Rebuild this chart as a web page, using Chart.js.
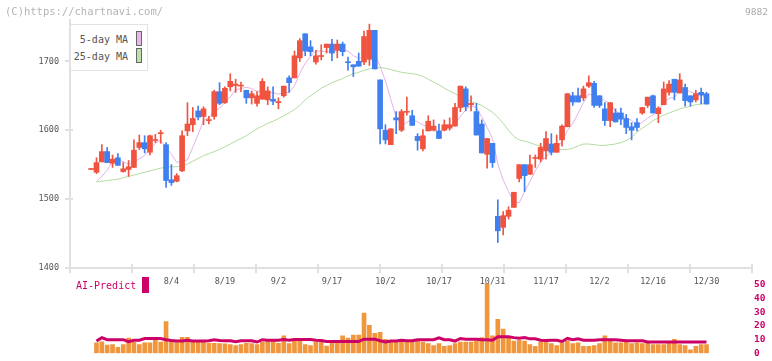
<!DOCTYPE html>
<html>
<head>
<meta charset="utf-8">
<script src="https://cdn.jsdelivr.net/npm/chart.js@4.4.0/dist/chart.umd.min.js"></script>
<style>
  html, body { margin: 0; padding: 0; background: #fff; }
  #wrap { position: relative; width: 772px; height: 361px; overflow: hidden; font-family: "DejaVu Sans Mono", monospace; }
  #priceChart { position: absolute; left: 0; top: 0; }
  #volChart { position: absolute; left: 0; top: 270px; }
  .copy { position: absolute; left: 5px; top: 5px; font-size: 10.5px; color: #b4b4b4; }
  .code { position: absolute; right: 4px; top: 6px; font-size: 9.5px; color: #aaa; }
  .legend { position: absolute; left: 70px; top: 24px; width: 76px; height: 45px; border: 1px solid #e2e2e2; background: #fff; }
  .lg-text { position: absolute; right: 19px; font-size: 10px; color: #555; white-space: nowrap; }
  .lg-box { position: absolute; left: 65px; width: 4px; height: 13px; border: 1px solid #666; }
  .ai-label { position: absolute; left: 76px; top: 280px; font-size: 10px; color: #cc0066; }
  .ai-box { position: absolute; left: 142px; top: 277px; width: 7px; height: 16px; background: #cc0066; }
</style>
</head>
<body>
<div id="wrap">
  <canvas id="priceChart" width="772" height="300"></canvas>
  <canvas id="volChart" width="772" height="91"></canvas>
  <div class="copy">(C)https://chartnavi.com/</div>
  <div class="code">9882</div>
  <div class="legend">
    <span class="lg-text" style="top:9px">5-day MA</span>
    <span class="lg-box" style="top:6px;background:#e8b8ea"></span>
    <span class="lg-text" style="top:26px">25-day MA</span>
    <span class="lg-box" style="top:23px;background:#bfe0ad"></span>
  </div>
  <div class="ai-label">AI-Predict</div>
  <div class="ai-box"></div>
</div>
<script>
// trading days shown on the chart
const dates = ["7/11","7/14","7/15","7/16","7/17","7/18","7/22","7/23","7/24","7/25","7/28","7/29","7/30","7/31",
  "8/1","8/4","8/5","8/6","8/7","8/8","8/12","8/13","8/14","8/15","8/18","8/19","8/20","8/21","8/22","8/25","8/26","8/27","8/28","8/29",
  "9/1","9/2","9/3","9/4","9/5","9/8","9/9","9/10","9/11","9/12","9/16","9/17","9/18","9/19","9/22","9/24","9/25","9/26","9/29","9/30",
  "10/1","10/2","10/3","10/6","10/7","10/8","10/9","10/10","10/14","10/15","10/16","10/17","10/20","10/21","10/22","10/23","10/24","10/27","10/28","10/29","10/30","10/31",
  "11/4","11/5","11/6","11/7","11/10","11/11","11/12","11/13","11/14","11/17","11/18","11/19","11/20","11/21","11/25","11/26","11/27","11/28",
  "12/1","12/2","12/3","12/4","12/5","12/8","12/9","12/10","12/11","12/12","12/15","12/16","12/17","12/18","12/19","12/22","12/23","12/24","12/25","12/26","12/29","12/30"];

const tickLabels = ["8/4","8/19","9/2","9/17","10/2","10/17","10/31","11/17","12/2","12/16","12/30"];
const priceTicks = [1400, 1500, 1600, 1700];
const volumeTicks = [0, 10, 20, 30, 40, 50];

const opens = [1543,1539,1554,1569,1552,1560,1540,1543,1546,1575,1582,1568,1585,1595,1579,1528,1526,1541,1599,1608,
  1628,1620,1614,1620,1656,1640,1663,1665,1664,1658,1647,1639,1645,1644,1645,1640,1650,1676,1676,1705,
  1740,1721,1699,1707,1720,1725,1716,1725,1699,1695,1700,1699,1703,1745,1673,1600,1579,1618,1600,1626,
  1621,1591,1573,1599,1600,1599,1600,1603,1606,1633,1660,1637,1627,1609,1565,1581,1475,1459,1475,1488,
  1530,1550,1536,1559,1558,1570,1580,1568,1586,1605,1650,1650,1647,1664,1668,1650,1631,1614,1625,1625,
  1617,1605,1611,1625,1636,1650,1624,1637,1655,1674,1654,1662,1650,1644,1655,1653];
const highs = [1543,1560,1579,1575,1564,1566,1553,1556,1586,1593,1592,1593,1594,1600,1582,1550,1537,1599,1640,1633,
  1635,1634,1620,1658,1669,1663,1682,1674,1670,1658,1657,1656,1675,1663,1663,1647,1664,1679,1715,1733,
  1740,1730,1716,1724,1725,1732,1731,1728,1706,1695,1712,1744,1754,1745,1673,1608,1602,1627,1630,1648,
  1629,1595,1601,1621,1615,1609,1615,1618,1639,1664,1663,1650,1639,1615,1588,1581,1499,1482,1489,1510,
  1550,1550,1564,1564,1581,1598,1595,1593,1608,1653,1655,1661,1664,1679,1671,1650,1640,1640,1631,1632,
  1623,1611,1617,1633,1648,1651,1634,1670,1672,1674,1682,1667,1650,1658,1661,1655];
const lows = [1543,1537,1554,1553,1546,1549,1539,1533,1546,1572,1567,1564,1582,1581,1517,1520,1525,1540,1592,1598,
  1615,1608,1609,1616,1637,1639,1657,1655,1656,1639,1638,1635,1645,1637,1637,1631,1648,1655,1676,1700,
  1708,1708,1696,1702,1712,1701,1705,1708,1687,1678,1693,1695,1694,1689,1580,1580,1579,1595,1598,1622,
  1607,1571,1570,1599,1599,1588,1599,1600,1606,1627,1628,1628,1593,1567,1545,1546,1437,1448,1471,1488,
  1525,1511,1536,1546,1554,1558,1564,1568,1577,1605,1636,1641,1643,1662,1633,1633,1607,1605,1612,1608,
  1595,1586,1599,1623,1633,1625,1611,1637,1651,1644,1654,1635,1635,1641,1638,1638];
const closes = [1543,1553,1569,1553,1558,1549,1544,1547,1571,1582,1573,1592,1586,1596,1527,1524,1534,1592,1609,1617,
  1619,1631,1615,1656,1639,1661,1671,1667,1665,1647,1653,1650,1671,1657,1642,1641,1664,1669,1708,1730,
  1715,1714,1708,1708,1725,1712,1725,1714,1698,1692,1693,1736,1745,1689,1602,1586,1602,1615,1627,1627,
  1607,1585,1592,1613,1606,1588,1608,1608,1633,1664,1634,1639,1593,1567,1588,1553,1454,1476,1484,1510,
  1550,1534,1550,1560,1575,1588,1568,1581,1606,1653,1641,1641,1660,1669,1636,1636,1614,1640,1612,1616,
  1604,1600,1604,1633,1648,1625,1632,1660,1667,1655,1673,1643,1641,1653,1651,1638];

const ma5 = [null,1526,1533,1542,1555.2,1556.4,1554.6,1550.2,1553.8,1558.6,1563.4,1573,1580.8,1585.8,1574.8,1565,1553.4,1554.6,1557.2,1575.2,
  1594.2,1613.6,1618.2,1627.6,1632,1640.4,1648.4,1658.8,1660.6,1662.2,1660.6,1656.4,1657.2,1655.6,1654.6,1652.2,1655,1654.6,1664.8,1682.4,
  1697.2,1707.2,1715,1715,1714,1713.4,1715.6,1716.8,1714.8,1708.2,1704.4,1706.6,1712.8,1711,1693,1671.6,1644.8,1618.8,1606.4,1611.4,
  1615.6,1612.2,1607.6,1604.8,1600.6,1596.8,1601.4,1604.6,1608.6,1620.2,1629.4,1635.6,1632.6,1619.4,1604.2,1588,1551,1527.6,1511,1495.4,
  1494.8,1510.8,1525.6,1540.8,1553.8,1561.4,1568.2,1574.4,1583.6,1599.2,1609.8,1624.4,1640.2,1652.8,1649.4,1648.4,1643,1639,1627.6,1623.6,
  1617.2,1614.4,1607.2,1611.4,1617.8,1622,1628.4,1639.6,1646.4,1647.8,1657.4,1659.6,1655.8,1653,1652.2,1645.2];
const ma25 = [null,1525,1526,1527,1528,1529,1531,1533,1535,1537,1539,1541,1543,1545,1546,1547,1547,1548,1551,1555,
  1559,1563,1566,1569,1572,1576,1580,1584,1588,1592,1597,1602,1606,1610,1613,1617,1621,1625,1630,1636,
  1644,1650,1655,1661,1665,1669,1672,1675,1679,1682,1684,1687,1689,1690,1691,1690,1688,1686,1684,1683,
  1682,1681,1678,1674,1670,1666,1661,1657,1653,1649,1645,1642,1639,1636,1631,1626,1619,1610,1600,1591,
  1586,1584,1582,1579,1577,1574,1573,1572,1572,1572,1574,1577,1580,1580,1579,1578,1578,1579,1580,1582,
  1585,1590,1597,1603,1608,1614,1618,1622,1625,1628,1631,1633,1635,1637,1638,1639];

const volume = [null,7.6,8.4,5.9,6.3,4.4,6.3,11,8,6.3,7.6,7.6,10.1,8.2,23,8.9,7.8,11.6,11.6,9.1,
  8.4,9.3,7.2,7.2,7,6.8,6.3,5.7,6.3,7.2,7,6.3,8,8.9,9.5,7.2,12.7,7,9.7,9.5,
  6.3,5.7,8.2,8.2,5.3,7.8,8.2,12.7,11,13.3,13.3,29.3,20.3,14.6,15.2,10.1,8.2,9.2,10.1,8.2,
  8.2,8.9,8.2,7,5.7,7,5.1,5.7,7,8.2,8.2,8.2,8.9,11.4,50.6,12.7,24.7,17.7,12,8.9,
  9.5,8.9,6.3,5.1,8.2,8.2,7,5.7,7.6,8.9,7,7.6,5.1,5.1,5.7,7,12.7,10.1,7.6,7.6,
  8.2,7,7.6,7,7.6,6.3,6.3,6.3,7.6,10.1,6.3,5.7,2.5,5.1,6.3,6.3];
const aiPredict = [null,8.9,11.4,9.9,9.9,9.9,9.9,8.4,9.5,9.5,10.8,10.8,10.8,10.8,9.9,9.3,8.9,8.9,9.5,8.9,
  8.9,8.9,9.1,9.9,9.3,9.1,9.1,8.4,9.1,9.1,9.1,8.2,9.9,9.5,9.5,9.5,10.1,9.5,10.1,10.1,
  10.1,10.1,9.5,9.3,8.6,8.6,8.6,8.6,8.6,8.6,8.6,10.3,10.3,10.3,9.1,8.2,8.9,8.9,9.5,9.1,
  9.1,9.9,9.9,9.9,9.9,11.2,9.9,9.9,8.9,10.8,10.3,10.3,10.3,9.9,9.9,9.5,12,12,12,11.4,
  11,11.4,10.5,10.5,9.5,9.3,9.5,9.5,8.6,10.8,9.9,10.5,9.5,9.5,9.5,9.9,9.9,9.9,9.9,9.5,
  9.1,9.1,9.1,9.1,8.2,8.2,8.2,8.2,8.2,8.2,8.2,8.2,8.2,8.2,8.2,8.2];

const RED = "#f0533f";
const BLUE = "#3f7ff0";
const xMin = -3.95, xMax = 123.5;

const monoFont = { family: "'DejaVu Sans Mono', monospace", size: 8.5 };
const candleColor = (ctx) => closes[ctx.dataIndex] >= opens[ctx.dataIndex] ? RED : BLUE;

// small tick marks crossing the axes, as on the original
const axisMarks = {
  id: "axisMarks",
  afterDraw(chart) {
    const { ctx, chartArea: a, scales } = chart;
    ctx.save();
    ctx.strokeStyle = "#e0e0e0";
    ctx.lineWidth = 2;
    ctx.beginPath();
    scales.y.ticks.forEach((t) => {
      const y = Math.round(scales.y.getPixelForValue(t.value));
      ctx.moveTo(a.left - 5, y);
      ctx.lineTo(a.left + 3, y);
    });
    for (let k = 0; k <= 11; k++) {
      const x = Math.round(a.left + (k * (a.right - a.left)) / 11);
      ctx.moveTo(x, a.bottom - 4);
      ctx.lineTo(x, a.bottom + 5);
    }
    ctx.stroke();
    ctx.restore();
  },
};

new Chart(document.getElementById("priceChart"), {
  type: "bar",
  data: {
    datasets: [
      {
        type: "line",
        label: "5-day MA",
        data: ma5.map((v, i) => ({ x: i, y: v })),
        borderColor: "#e6b0e8",
        borderWidth: 1,
        pointRadius: 0,
        tension: 0,
        order: 4,
      },
      {
        type: "line",
        label: "25-day MA",
        data: ma25.map((v, i) => ({ x: i, y: v })),
        borderColor: "#b4dca0",
        borderWidth: 1,
        pointRadius: 0,
        tension: 0,
        order: 3,
      },
      {
        label: "wick",
        data: dates.map((d, i) => ({ x: i, y: [lows[i], highs[i]] })),
        backgroundColor: candleColor,
        barThickness: 1,
        grouped: false,
        minBarLength: 1,
        order: 2,
      },
      {
        label: "body",
        data: dates.map((d, i) => ({ x: i, y: [Math.min(opens[i], closes[i]), Math.max(opens[i], closes[i])] })),
        backgroundColor: candleColor,
        barThickness: 5,
        grouped: false,
        minBarLength: 1,
        order: 1,
      },
    ],
  },
  options: {
    responsive: false,
    animation: false,
    events: [],
    layout: { padding: { top: 20, right: 20, left: 0, bottom: 0 } },
    plugins: { legend: { display: false }, tooltip: { enabled: false } },
    scales: {
      x: {
        type: "linear",
        offset: false,
        min: xMin,
        max: xMax,
        grid: { display: false, drawTicks: false },
        border: { color: "#e0e0e0", width: 2 },
        afterBuildTicks: (scale) => {
          scale.ticks = tickLabels.map((l) => ({ value: dates.indexOf(l) }));
        },
        afterFit: (scale) => { scale.height = 32; },
        ticks: {
          autoSkip: false,
          maxRotation: 0,
          padding: 9,
          color: "#555",
          font: monoFont,
          callback: (v) => dates[v],
        },
      },
      y: {
        min: 1400,
        max: 1760,
        grid: { display: false, drawTicks: false },
        border: { color: "#e0e0e0", width: 2 },
        afterBuildTicks: (scale) => {
          scale.ticks = priceTicks.map((v) => ({ value: v }));
        },
        afterFit: (scale) => { scale.width = 70; },
        ticks: { padding: 11, color: "#555", font: monoFont, callback: (v) => String(v) },
      },
    },
  },
  plugins: [axisMarks],
});

new Chart(document.getElementById("volChart"), {
  type: "bar",
  data: {
    datasets: [
      {
        type: "line",
        label: "AI-Predict",
        data: aiPredict.map((v, i) => ({ x: i, y: v })),
        borderColor: "#cc0066",
        borderWidth: 3,
        pointRadius: 0,
        tension: 0,
        order: 0,
      },
      {
        label: "volume",
        data: volume.map((v, i) => ({ x: i, y: v })),
        backgroundColor: "#f0963c",
        barThickness: 4,
        order: 1,
      },
    ],
  },
  options: {
    responsive: false,
    animation: false,
    events: [],
    layout: { padding: { top: 0, right: 4, left: 70, bottom: 2 } },
    plugins: { legend: { display: false }, tooltip: { enabled: false } },
    scales: {
      x: { type: "linear", offset: false, min: xMin, max: xMax, display: false },
      y: {
        position: "right",
        min: 0,
        max: 55,
        grid: { display: false, drawTicks: false },
        border: { display: false },
        afterBuildTicks: (scale) => {
          scale.ticks = volumeTicks.map((v) => ({ value: v }));
        },
        afterFit: (scale) => { scale.width = 16; },
        ticks: {
          padding: 2,
          crossAlign: "near",
          color: "#cc0066",
          font: { family: "'DejaVu Sans Mono', monospace", size: 9.5, weight: "bold" },
          callback: (v) => String(v),
        },
      },
    },
  },
});
</script>
</body>
</html>
